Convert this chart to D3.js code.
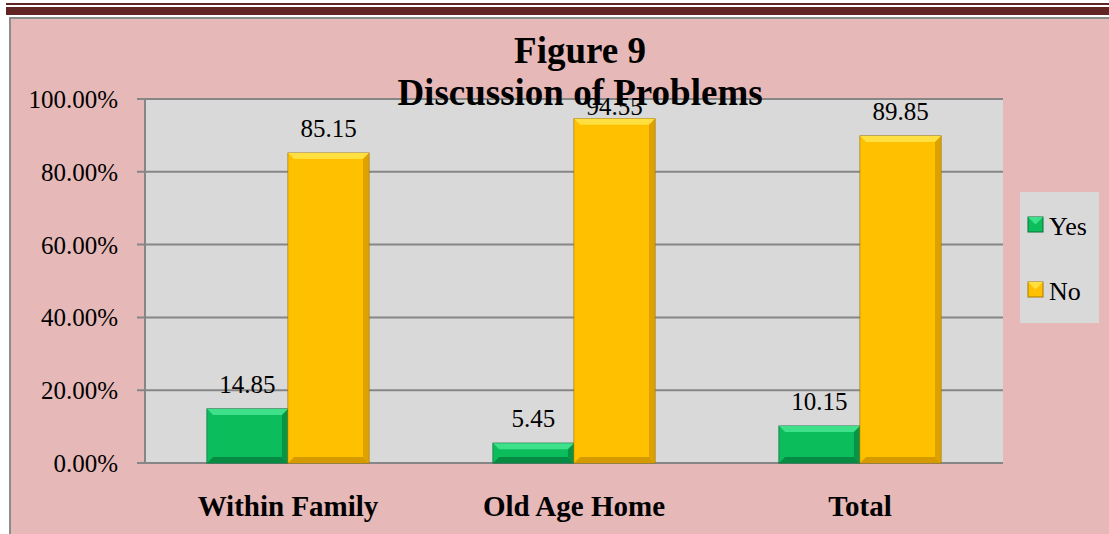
<!DOCTYPE html>
<html>
<head>
  <meta charset="UTF-8">
  <title>Figure 9 Discussion of Problems</title>
  <script src="https://d3js.org/d3.v7.min.js"></script>
  <style>
    body { margin: 0; background: #fff; }
    svg text { font-family: "Liberation Serif", "Times New Roman", serif; fill: #000; }
    .tick-label { font-size: 25px; }
    .cat-label { font-size: 29px; font-weight: bold; }
    .title { font-size: 37px; font-weight: bold; }
    .value-label { font-size: 25px; }
    .legend-label { font-size: 26px; }
  </style>
</head>
<body>
  <svg width="1109" height="534"></svg>
  <script>
    const categories = ["Within Family", "Old Age Home", "Total"];
    const yesValues = [14.85, 5.45, 10.15];
    const noValues = [85.15, 94.55, 89.85];
    const seriesNames = ["Yes", "No"];
    const yTicks = [0, 20, 40, 60, 80, 100];

    const colors = {
      Yes: { main: "#0cbd5c", light: "#3fe08a", dark: "#078a42", edge: "#06703a" },
      No: { main: "#ffc000", light: "#ffe040", dark: "#d49a00", edge: "#a87a00" }
    };

    const rows = categories.map((c, i) => ({ cat: c, Yes: yesValues[i], No: noValues[i] }));

    const svg = d3.select("svg");

    // header rules
    svg.append("rect").attr("x", 6).attr("y", 3).attr("width", 1103).attr("height", 2).attr("fill", "#632523");
    svg.append("rect").attr("x", 6).attr("y", 7).attr("width", 1103).attr("height", 8).attr("fill", "#632523");

    // chart frame
    svg.append("rect").attr("x", 10).attr("y", 18).attr("width", 1110).attr("height", 530)
      .attr("fill", "#e6b8b7").attr("stroke", "#8c8c8c").attr("stroke-width", 2);

    const plot = { left: 145, right: 1003, top: 99, bottom: 463 };

    const x0 = d3.scaleBand().domain(categories).range([plot.left, plot.right]).paddingInner(0).paddingOuter(0);
    const x1 = d3.scaleBand().domain(seriesNames).range([0, x0.bandwidth()]).paddingInner(0).paddingOuter(0.765);
    const y = d3.scaleLinear().domain([0, 100]).range([plot.bottom, plot.top]);

    // plot background
    svg.append("rect")
      .attr("x", plot.left).attr("y", plot.top)
      .attr("width", plot.right - plot.left).attr("height", plot.bottom - plot.top)
      .attr("fill", "#d9d9d9");

    // gridlines
    svg.append("g").selectAll("line").data(yTicks).join("line")
      .attr("x1", plot.left - 8).attr("x2", plot.right)
      .attr("y1", d => y(d)).attr("y2", d => y(d))
      .attr("stroke", "#868686").attr("stroke-width", 2);
    svg.append("line")
      .attr("x1", plot.left).attr("x2", plot.left)
      .attr("y1", plot.top).attr("y2", plot.bottom)
      .attr("stroke", "#868686").attr("stroke-width", 2);

    // y tick labels
    svg.append("g").selectAll("text").data(yTicks).join("text")
      .attr("class", "tick-label")
      .attr("x", 118).attr("y", d => y(d) + 9)
      .attr("text-anchor", "end")
      .text(d => d.toFixed(2) + "%");

    // category labels
    svg.append("g").selectAll("text").data(categories).join("text")
      .attr("class", "cat-label")
      .attr("x", d => x0(d) + x0.bandwidth() / 2)
      .attr("y", 516)
      .attr("text-anchor", "middle")
      .text(d => d);

    // bars with bevel
    const bev = 6;
    const bars = [];
    rows.forEach(r => seriesNames.forEach(s => bars.push({ cat: r.cat, key: s, value: r[s] })));

    const barG = svg.append("g").selectAll("g").data(bars).join("g")
      .attr("transform", d => `translate(${x0(d.cat) + x1(d.key)},${y(d.value)})`);

    barG.append("rect")
      .attr("width", x1.bandwidth())
      .attr("height", d => y(0) - y(d.value))
      .attr("fill", d => colors[d.key].main)
      .attr("stroke", d => colors[d.key].edge)
      .attr("stroke-width", 1);

    // top facet
    barG.append("path")
      .attr("d", d => {
        const w = x1.bandwidth(), h = y(0) - y(d.value), b = Math.min(bev, h / 2);
        return `M0,0 L${w},0 L${w - b},${b} L${b},${b} Z`;
      })
      .attr("fill", d => colors[d.key].light);
    // right facet
    barG.append("path")
      .attr("d", d => {
        const w = x1.bandwidth(), h = y(0) - y(d.value), b = Math.min(bev, h / 2);
        return `M${w},0 L${w},${h} L${w - b},${h - b} L${w - b},${b} Z`;
      })
      .attr("fill", d => colors[d.key].dark).attr("opacity", 0.8);
    // bottom facet
    barG.append("path")
      .attr("d", d => {
        const w = x1.bandwidth(), h = y(0) - y(d.value), b = Math.min(bev, h / 2);
        return `M0,${h} L${w},${h} L${w - b},${h - b} L${b},${h - b} Z`;
      })
      .attr("fill", d => colors[d.key].dark);
    // left facet
    barG.append("path")
      .attr("d", d => {
        const h = y(0) - y(d.value), b = Math.min(bev, h / 2);
        return `M0,0 L${b},${b} L${b},${h - b} L0,${h} Z`;
      })
      .attr("fill", d => colors[d.key].main).attr("opacity", 0.6);

    // value labels (nudged down when near the top, as in the original)
    svg.append("g").selectAll("text").data(bars).join("text")
      .attr("class", "value-label")
      .attr("x", d => x0(d.cat) + x1(d.key) + x1.bandwidth() / 2)
      .attr("y", d => Math.max(y(d.value) - 16, plot.top + 16))
      .attr("text-anchor", "middle")
      .text(d => d.value.toFixed(2));

    // title
    svg.append("text").attr("class", "title").attr("x", 580).attr("y", 63)
      .attr("text-anchor", "middle").text("Figure 9");
    svg.append("text").attr("class", "title").attr("x", 580).attr("y", 105)
      .attr("text-anchor", "middle").text("Discussion of Problems");

    // legend
    const legend = svg.append("g");
    legend.append("rect").attr("x", 1020).attr("y", 192).attr("width", 79).attr("height", 131).attr("fill", "#d9d9d9");
    const ly = d3.scalePoint().domain(seriesNames).range([225, 290]);
    const li = legend.selectAll("g").data(seriesNames).join("g")
      .attr("transform", d => `translate(1028,${ly(d)})`);
    li.append("rect").attr("x", 0).attr("y", -8).attr("width", 15).attr("height", 15)
      .attr("fill", d => colors[d].main).attr("stroke", d => colors[d].edge);
    li.append("path").attr("d", "M0,-8 L15,-8 L7.5,-0.5 Z").attr("fill", d => colors[d].light);
    li.append("text").attr("class", "legend-label").attr("x", 21).attr("y", 10).text(d => d);
  </script>
</body>
</html>
